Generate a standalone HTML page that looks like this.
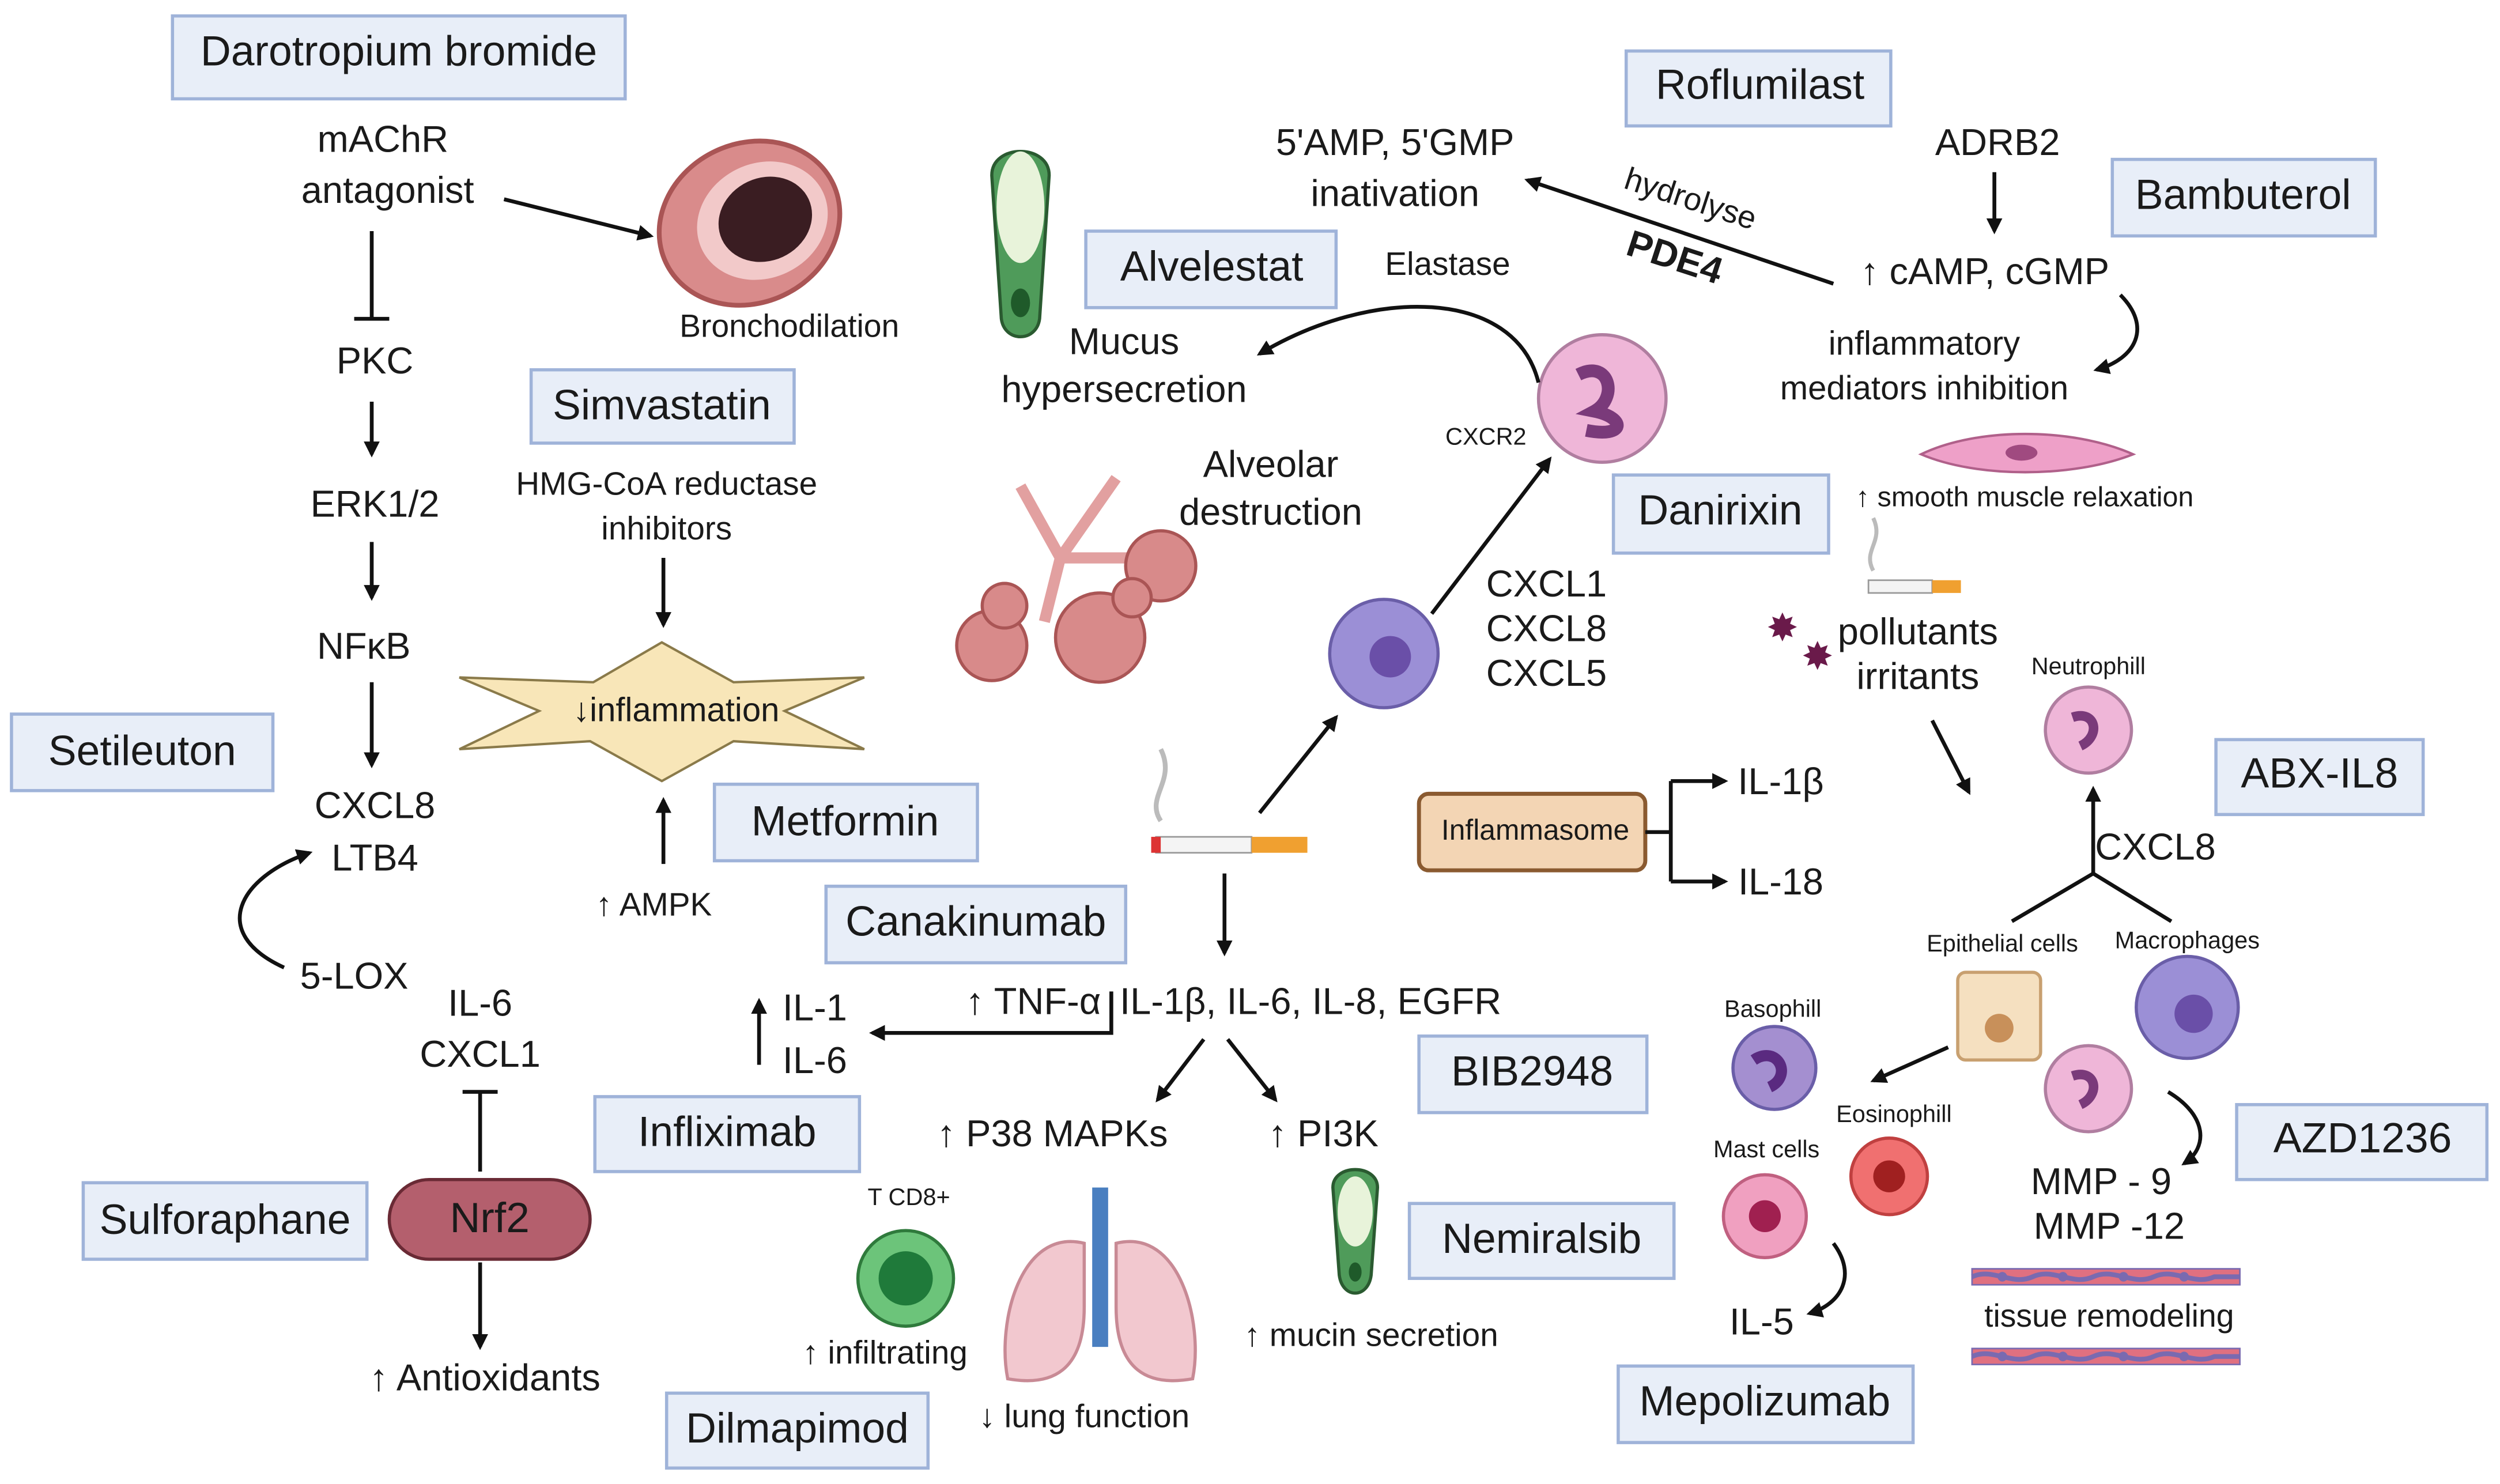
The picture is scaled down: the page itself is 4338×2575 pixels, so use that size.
<!DOCTYPE html>
<html><head><meta charset="utf-8"><style>
html,body{margin:0;padding:0;background:#fff}
svg{display:block}
text{font-family:"Liberation Sans",sans-serif;fill:#1a1a1a}
.b{fill:#e8eef8;stroke:#9fb3d9;stroke-width:2}
.t{font-size:26.5px;text-anchor:middle;dominant-baseline:middle}
.l{font-size:23.5px;text-anchor:middle;dominant-baseline:middle}
.s{font-size:15px;text-anchor:middle;dominant-baseline:middle}
.a{stroke:#111;stroke-width:2.4;fill:none;marker-end:url(#ah)}
.n{stroke:#111;stroke-width:2.4;fill:none}
</style></head><body>
<svg width="4338" height="2575" viewBox="0 0 1568 931" xmlns="http://www.w3.org/2000/svg">
<defs><marker id="ah" markerWidth="10" markerHeight="10" refX="8" refY="5" orient="auto" markerUnits="userSpaceOnUse" viewBox="0 0 10 10"><path d="M0,0 L10,5 L0,10 z" fill="#111"/></marker></defs>

<rect class="b" x="108" y="10" width="284" height="52"/><text class="t" x="250" y="34">Darotropium bromide</text>
<rect class="b" x="333" y="232" width="165" height="46"/><text class="t" x="415" y="256">Simvastatin</text>
<rect class="b" x="448" y="492" width="165" height="48"/><text class="t" x="530" y="517">Metformin</text>
<rect class="b" x="7" y="448" width="164" height="48"/><text class="t" x="89" y="473">Setileuton</text>
<rect class="b" x="52" y="742" width="178" height="48"/><text class="t" x="141" y="767">Sulforaphane</text>
<rect class="b" x="373" y="688" width="166" height="47"/><text class="t" x="456" y="712">Infliximab</text>
<rect class="b" x="518" y="556" width="188" height="48"/><text class="t" x="612" y="580">Canakinumab</text>
<rect class="b" x="890" y="650" width="143" height="48"/><text class="t" x="961" y="674">BIB2948</text>
<rect class="b" x="884" y="755" width="166" height="47"/><text class="t" x="967" y="779">Nemiralsib</text>
<rect class="b" x="418" y="874" width="164" height="47"/><text class="t" x="500" y="898">Dilmapimod</text>
<rect class="b" x="1012" y="298" width="135" height="49"/><text class="t" x="1079" y="322">Danirixin</text>
<rect class="b" x="681" y="145" width="157" height="48"/><text class="t" x="760" y="169">Alvelestat</text>
<rect class="b" x="1020" y="32" width="166" height="47"/><text class="t" x="1104" y="55">Roflumilast</text>
<rect class="b" x="1325" y="100" width="165" height="48"/><text class="t" x="1407" y="124">Bambuterol</text>
<rect class="b" x="1390" y="464" width="130" height="47"/><text class="t" x="1455" y="487">ABX-IL8</text>
<rect class="b" x="1403" y="693" width="157" height="47"/><text class="t" x="1482" y="716">AZD1236</text>
<rect class="b" x="1015" y="857" width="185" height="48"/><text class="t" x="1107" y="881">Mepolizumab</text>
<rect x="890" y="498" width="142" height="48" rx="6" fill="#f3d5b4" stroke="#8a5a30" stroke-width="2.5"/><text class="l" x="963" y="522" style="font-size:18px">Inflammasome</text>

<text class="l" x="240" y="89">mAChR</text><text class="l" x="243" y="121">antagonist</text>
<g transform="rotate(-25 470 140)">
<ellipse cx="470" cy="140" rx="58" ry="50" fill="#d98b8b" stroke="#a55" stroke-width="3"/>
<ellipse cx="478" cy="142" rx="42" ry="36" fill="#f2c9c9"/><ellipse cx="480" cy="142" rx="30" ry="26" fill="#3a1d22"/>
</g>
<line class="a" x1="316" y1="125" x2="408" y2="148"/>
<text class="l" x="495" y="206" style="font-size:20px">Bronchodilation</text>
<line class="n" x1="233" y1="145" x2="233" y2="200"/><line class="n" x1="222" y1="200" x2="244" y2="200"/>
<text class="l" x="235" y="228">PKC</text>
<line class="a" x1="233" y1="252" x2="233" y2="285"/>
<text class="l" x="235" y="318">ERK1/2</text>
<line class="a" x1="233" y1="340" x2="233" y2="375"/>
<text class="l" x="228" y="407">NFκB</text>
<line class="a" x1="233" y1="428" x2="233" y2="480"/>
<text class="l" x="235" y="507">CXCL8</text><text class="l" x="235" y="540">LTB4</text>
<path class="a" d="M178,607 C130,585 150,550 194,535"/>
<text class="l" x="222" y="614">5-LOX</text>
<text class="l" x="418" y="305" style="font-size:20.5px">HMG-CoA reductase</text><text class="l" x="418" y="333" style="font-size:20.5px">inhibitors</text>
<line class="a" x1="416" y1="350" x2="416" y2="392"/>
<polygon points="288,425 372,428 415,403 460,428 542,425 492,446 542,470 460,465 415,490 370,465 288,470 338,446" fill="#f8e6b8" stroke="#8a7a4a" stroke-width="1.5"/>
<text class="l" x="424" y="447" style="font-size:21px">↓inflammation</text>
<line class="a" x1="416" y1="542" x2="416" y2="502"/>
<text class="l" x="410" y="569" style="font-size:20.5px">↑ AMPK</text>
<text class="l" x="301" y="631">IL-6</text><text class="l" x="301" y="663">CXCL1</text>
<line class="n" x1="301" y1="735" x2="301" y2="685"/><line class="n" x1="290" y1="685" x2="312" y2="685"/>
<rect x="244" y="740" width="126" height="50" rx="25" fill="#b45f6d" stroke="#6a2a35" stroke-width="2"/>
<text class="t" x="307" y="766">Nrf2</text>
<line class="a" x1="301" y1="792" x2="301" y2="845"/>
<text class="l" x="304" y="866">↑ Antioxidants</text>

<text class="l" x="511" y="634">IL-1</text><text class="l" x="511" y="667">IL-6</text>
<line class="a" x1="476" y1="668" x2="476" y2="628"/>
<text class="l" x="648" y="630">↑ TNF-α</text><text class="l" x="822" y="630">IL-1β, IL-6, IL-8, EGFR</text>
<path class="a" d="M697,622 L697,648 L547,648"/>
<line class="a" x1="755" y1="652" x2="726" y2="690"/>
<line class="a" x1="770" y1="652" x2="800" y2="690"/>
<text class="l" x="660" y="713">↑ P38 MAPKs</text><text class="l" x="830" y="713">↑ PI3K</text>
<path d="M836,745 C836,730 864,730 864,745 L860,800 C858,815 842,815 840,800 Z" fill="#4f9b5a" stroke="#2a5a30" stroke-width="2"/><ellipse cx="850" cy="760" rx="11" ry="22" fill="#e8f3da"/><ellipse cx="850" cy="798" rx="4" ry="6" fill="#1f5a2a"/>
<text class="l" x="860" y="839" style="font-size:20.5px">↑ mucin secretion</text>
<text class="s" x="570" y="752">T CD8+</text>
<circle cx="568" cy="802" r="30" fill="#6cc47a" stroke="#2f7a3c" stroke-width="2"/><circle cx="568" cy="802" r="17" fill="#1f7a3a"/>
<text class="l" x="555" y="850" style="font-size:20.5px">↑ infiltrating</text>
<path d="M680,780 C640,770 625,830 632,865 C660,870 680,860 680,820 Z M700,780 C740,770 755,830 748,865 C720,870 700,860 700,820 Z" fill="#f2c8cf" stroke="#c88a95" stroke-width="2"/>
<rect x="685" y="745" width="10" height="100" fill="#4a7fc0"/>
<text class="l" x="680" y="890" style="font-size:20.5px">↓ lung function</text>

<rect x="725" y="525" width="60" height="10" fill="#f4f4f4" stroke="#999"/><rect x="785" y="525" width="35" height="10" fill="#f0a030"/><rect x="722" y="525" width="6" height="10" fill="#d33"/>
<path d="M728,515 C718,500 738,490 728,470" stroke="#bbb" stroke-width="3" fill="none"/>
<line class="a" x1="768" y1="548" x2="768" y2="598"/>
<line class="a" x1="790" y1="510" x2="838" y2="450"/>
<circle cx="868" cy="410" r="34" fill="#9b8fd6" stroke="#6a5ea8" stroke-width="2"/><circle cx="872" cy="412" r="13" fill="#6a4fa8"/>
<line class="a" x1="898" y1="385" x2="972" y2="288"/>
<text class="l" x="970" y="368">CXCL1</text><text class="l" x="970" y="396">CXCL8</text><text class="l" x="970" y="424">CXCL5</text>
<circle cx="1005" cy="250" r="40" fill="#efb6d8" stroke="#b07ea0" stroke-width="2"/><path d="M990,235 C1010,225 1015,250 1000,258 C1020,262 1020,275 995,270" stroke="#7a3a7a" stroke-width="8" fill="none"/>
<text class="s" x="932" y="275">CXCR2</text>
<text class="l" x="908" y="167" style="font-size:20.5px">Elastase</text>
<path class="a" d="M965,240 C950,180 860,180 790,222"/>
<text class="l" x="705" y="216">Mucus</text><text class="l" x="705" y="246">hypersecretion</text>
<path d="M622,110 C622,90 658,90 658,110 L652,200 C650,215 630,215 628,200 Z" fill="#4f9b5a" stroke="#2a5a30" stroke-width="2"/><ellipse cx="640" cy="130" rx="15" ry="35" fill="#e8f3da"/><ellipse cx="640" cy="190" rx="6" ry="9" fill="#1f5a2a"/>
<text class="l" x="797" y="293">Alveolar</text><text class="l" x="797" y="323">destruction</text>
<path d="M640,305 L665,350 L655,390 M665,350 L725,350 M665,350 L700,300" stroke="#e2a0a0" stroke-width="7" fill="none"/>
<g fill="#d88a8a" stroke="#a55" stroke-width="2"><circle cx="622" cy="405" r="22"/><circle cx="630" cy="380" r="14"/><circle cx="690" cy="400" r="28"/><circle cx="728" cy="355" r="22"/><circle cx="710" cy="375" r="12"/></g>

<text class="l" x="875" y="91">5'AMP, 5'GMP</text><text class="l" x="875" y="123">inativation</text>
<line class="a" x1="1150" y1="178" x2="958" y2="113"/>
<text class="l" x="1060" y="126" transform="rotate(18 1060 126)" style="font-size:20px">hydrolyse</text>
<text class="l" x="1050" y="163" transform="rotate(18 1050 163)" style="font-weight:bold">PDE4</text>
<text class="l" x="1253" y="91">ADRB2</text>
<line class="a" x1="1251" y1="108" x2="1251" y2="145"/>
<text class="l" x="1245" y="172">↑ cAMP, cGMP</text>
<text class="l" x="1207" y="217" style="font-size:21px">inflammatory</text><text class="l" x="1207" y="245" style="font-size:21px">mediators inhibition</text>
<path class="a" d="M1330,185 C1350,205 1340,225 1315,232"/>
<path d="M1205,285 C1240,268 1300,268 1338,285 C1300,300 1240,300 1205,285 Z" fill="#eea0c8" stroke="#b0608a" stroke-width="1.5"/><ellipse cx="1268" cy="284" rx="10" ry="5" fill="#a04a80"/>
<text class="l" x="1270" y="313" style="font-size:17.5px">↑ smooth muscle relaxation</text>
<rect x="1172" y="364" width="40" height="8" fill="#f4f4f4" stroke="#999"/><rect x="1212" y="364" width="18" height="8" fill="#f0a030"/>
<path d="M1175,358 C1168,345 1182,340 1175,325" stroke="#bbb" stroke-width="2.5" fill="none"/>
<text x="1118" y="402" style="font-size:24px;fill:#6a1a4a" text-anchor="middle">✸</text>
<text x="1140" y="420" style="font-size:24px;fill:#6a1a4a" text-anchor="middle">✸</text>
<text class="l" x="1203" y="398">pollutants</text><text class="l" x="1203" y="426">irritants</text>
<line class="a" x1="1212" y1="452" x2="1235" y2="497"/>
<text class="s" x="1310" y="419">Neutrophill</text>
<circle cx="1310" cy="458" r="27" fill="#efb6d8" stroke="#b07ea0" stroke-width="2"/><path d="M1300,450 C1315,445 1318,462 1305,468" stroke="#7a3a7a" stroke-width="6" fill="none"/>
<line class="a" x1="1313" y1="548" x2="1313" y2="495"/>
<line class="n" x1="1313" y1="548" x2="1262" y2="578"/><line class="n" x1="1313" y1="548" x2="1362" y2="578"/>
<text class="l" x="1352" y="533">CXCL8</text>
<text class="s" x="1256" y="593">Epithelial cells</text><text class="s" x="1372" y="591">Macrophages</text>
<rect x="1228" y="610" width="52" height="55" rx="5" fill="#f5e0c0" stroke="#c8a070" stroke-width="2"/><circle cx="1254" cy="645" r="9" fill="#c8905a"/>
<circle cx="1372" cy="632" r="32" fill="#9b8fd6" stroke="#6a5ea8" stroke-width="2"/><circle cx="1376" cy="636" r="12" fill="#6a4fa8"/>
<line class="a" x1="1222" y1="657" x2="1175" y2="678"/>
<text class="s" x="1112" y="634">Basophill</text>
<circle cx="1113" cy="670" r="26" fill="#a48fd0" stroke="#6a5ea8" stroke-width="2"/><path d="M1100,665 C1115,655 1125,675 1110,682" stroke="#5a2a80" stroke-width="7" fill="none"/>
<circle cx="1310" cy="683" r="27" fill="#efb6d8" stroke="#b07ea0" stroke-width="2"/><path d="M1300,675 C1315,670 1318,687 1305,693" stroke="#7a3a7a" stroke-width="6" fill="none"/>
<path class="a" d="M1360,685 C1385,700 1385,720 1370,730"/>
<text class="s" x="1188" y="700">Eosinophill</text>
<circle cx="1185" cy="738" r="24" fill="#f07070" stroke="#c04040" stroke-width="2"/><circle cx="1185" cy="738" r="10" fill="#a02020"/>
<text class="s" x="1108" y="722">Mast cells</text>
<circle cx="1107" cy="763" r="26" fill="#f0a0c0" stroke="#c06080" stroke-width="2"/><circle cx="1107" cy="763" r="10" fill="#a02050"/>
<text class="l" x="1318" y="743">MMP - 9</text><text class="l" x="1323" y="771">MMP -12</text>
<rect x="1237" y="796" width="168" height="10" fill="#e07080" stroke="#7a6ab0"/>
<path d="M1237,801 C1250,795 1262,807 1275,801 C1288,795 1300,807 1313,801 C1326,795 1338,807 1351,801 C1364,795 1376,807 1389,801 L1405,801" stroke="#7a6ab0" stroke-width="3" fill="none"/>
<rect x="1237" y="846" width="168" height="10" fill="#e07080" stroke="#7a6ab0"/>
<path d="M1237,851 C1250,845 1262,857 1275,851 C1288,845 1300,857 1313,851 C1326,845 1338,857 1351,851 C1364,845 1376,857 1389,851 L1405,851" stroke="#7a6ab0" stroke-width="3" fill="none"/>
<g fill="#7a6ab0"><circle cx="1256" cy="801" r="3"/><circle cx="1294" cy="801" r="3"/><circle cx="1332" cy="801" r="3"/><circle cx="1370" cy="801" r="3"/><circle cx="1256" cy="851" r="3"/><circle cx="1294" cy="851" r="3"/><circle cx="1332" cy="851" r="3"/><circle cx="1370" cy="851" r="3"/></g>
<text class="l" x="1323" y="827" style="font-size:20px">tissue remodeling</text>
<text class="l" x="1105" y="831">IL-5</text>
<path class="a" d="M1150,780 C1165,800 1155,818 1135,824"/>
<path class="n" d="M1032,522 L1048,522 M1048,490 L1048,553"/>
<line class="a" x1="1048" y1="490" x2="1082" y2="490"/><line class="a" x1="1048" y1="553" x2="1082" y2="553"/>
<text class="l" x="1117" y="492">IL-1β</text><text class="l" x="1117" y="555">IL-18</text>
</svg>
</body></html>
